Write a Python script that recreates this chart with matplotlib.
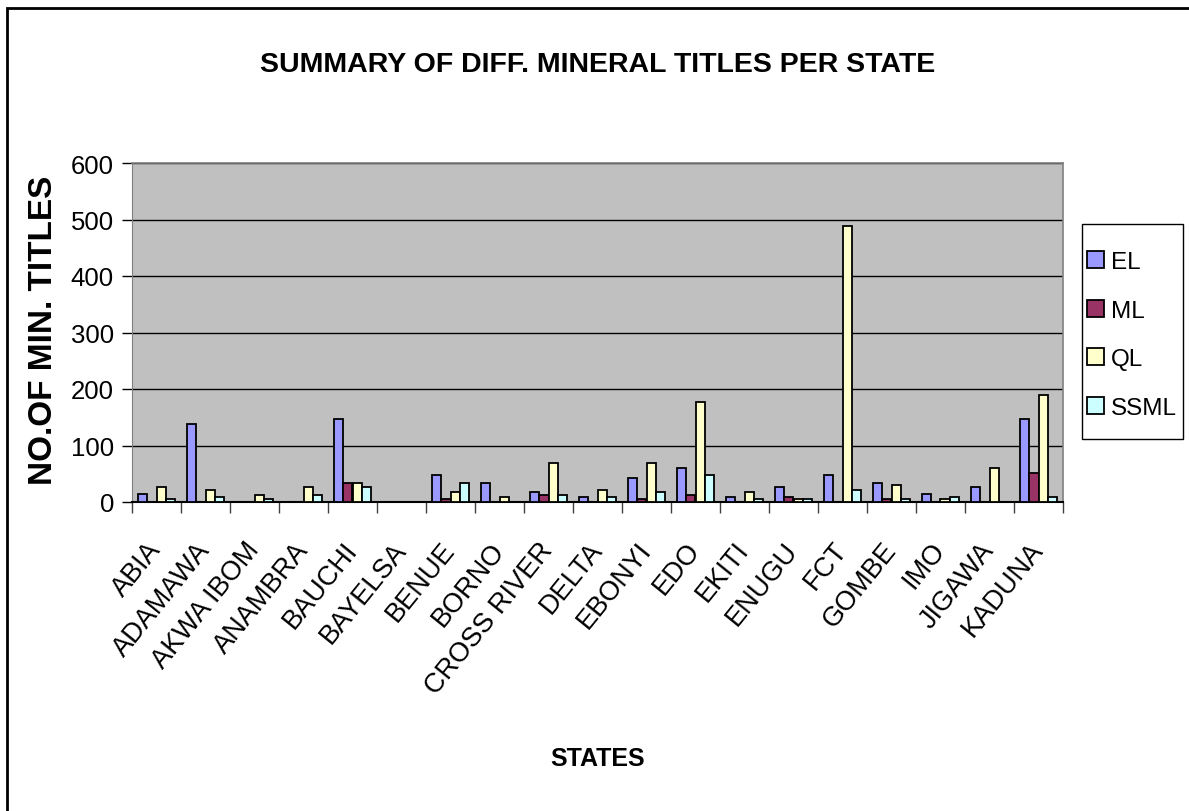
import matplotlib
matplotlib.use("Agg")
import matplotlib.pyplot as plt
import numpy as np
from matplotlib.patches import Rectangle

states = ["ABIA", "ADAMAWA", "AKWA IBOM", "ANAMBRA", "BAUCHI", "BAYELSA", "BENUE",
          "BORNO", "CROSS RIVER", "DELTA", "EBONYI", "EDO", "EKITI", "ENUGU", "FCT",
          "GOMBE", "IMO", "JIGAWA", "KADUNA"]
el   = [14, 138, 0, 0, 147, 0, 47, 34, 18, 9, 43, 60, 9, 26, 47, 34, 14, 26, 147]
ml   = [0, 0, 0, 0, 34, 0, 5, 0, 13, 0, 5, 13, 0, 9, 0, 5, 0, 0, 51]
ql   = [26, 22, 13, 26, 34, 0, 18, 9, 69, 22, 69, 177, 17, 5, 488, 30, 5, 60, 190]
ssml = [5, 9, 5, 13, 26, 0, 34, 0, 13, 9, 17, 47, 5, 5, 22, 5, 9, 0, 9]
series_names = ["EL", "ML", "QL", "SSML"]
colors = ["#9999FF", "#993366", "#FFFFCC", "#CCFFFF"]
yticks = [0, 100, 200, 300, 400, 500, 600]

FONT = ["Liberation Sans", "DejaVu Sans"]
W, H = 1189, 812

fig = plt.figure(figsize=(11.89, 8.12), dpi=100)
fig.patches.append(Rectangle((7/W, -0.1), 1.2, 1 - 9/H + 0.1, transform=fig.transFigure,
                             fill=False, edgecolor="black", linewidth=2.0, zorder=0))

ax = fig.add_axes([132/W, 1 - 503/H, (1063 - 132)/W, (503 - 164)/H])
ax.set_facecolor("#C0C0C0")

x = np.arange(len(states))
w = 0.19
data = [el, ml, ql, ssml]
for i, (vals, c, name) in enumerate(zip(data, colors, series_names)):
    ax.bar(x + (i - 1.5) * w, vals, width=w, color=c, edgecolor="black",
           linewidth=1.3, label=name, zorder=3)

ax.set_xlim(-0.5, len(states) - 0.5)
ax.set_ylim(0, 600)
ax.set_yticks(yticks)
ax.set_yticklabels([str(v) for v in yticks], family=FONT, fontsize=18.5)
ax.yaxis.grid(True, color="black", linewidth=1.0, zorder=1)
ax.set_axisbelow(True)
ax.tick_params(axis="y", direction="out", length=7, width=1, pad=6)

ax.set_xticks(x)
ax.set_xticklabels(states, family=FONT, fontsize=19.5, rotation=51,
                   ha="right", va="center", rotation_mode="anchor")
ax.tick_params(axis="x", which="major", length=0, pad=31)
ax.set_xticks(np.arange(-0.5, len(states)), minor=True)
ax.tick_params(axis="x", which="minor", direction="out", length=8, width=1, color="#404040")

for s in ["top", "right"]:
    ax.spines[s].set_color("#808080")
    ax.spines[s].set_linewidth(1.2)
ax.spines["left"].set_color("#808080")
ax.spines["bottom"].set_color("black")
ax.spines["bottom"].set_linewidth(1.5)

fig.text(598/W, 1 - 65/H, "SUMMARY OF DIFF. MINERAL TITLES PER STATE",
         family=FONT, fontsize=20.5, fontweight="bold", ha="center", va="center")
fig.text(598/W, 1 - 759/H, "STATES", family=FONT, fontsize=18,
         fontweight="bold", ha="center", va="center")
fig.text(44/W, 1 - 330/H, "NO.OF MIN. TITLES", family=FONT, fontsize=24,
         fontweight="bold", ha="center", va="center", rotation=90)

# legend box
fig.patches.append(Rectangle((1082/W, 1 - 440/H), (1183 - 1082)/W, (440 - 225)/H,
                             transform=fig.transFigure, facecolor="white",
                             edgecolor="black", linewidth=1.0, zorder=1))
leg = fig.legend(loc="center", bbox_to_anchor=(1132/W, 1 - 336/H),
                 prop={"family": FONT, "size": 17.5}, frameon=False,
                 handlelength=0.7, handleheight=0.7,
                 handletextpad=0.25, labelspacing=1.1, borderpad=0.2, borderaxespad=0)
leg.set_zorder(2)

fig.savefig("out.png", dpi=100)
